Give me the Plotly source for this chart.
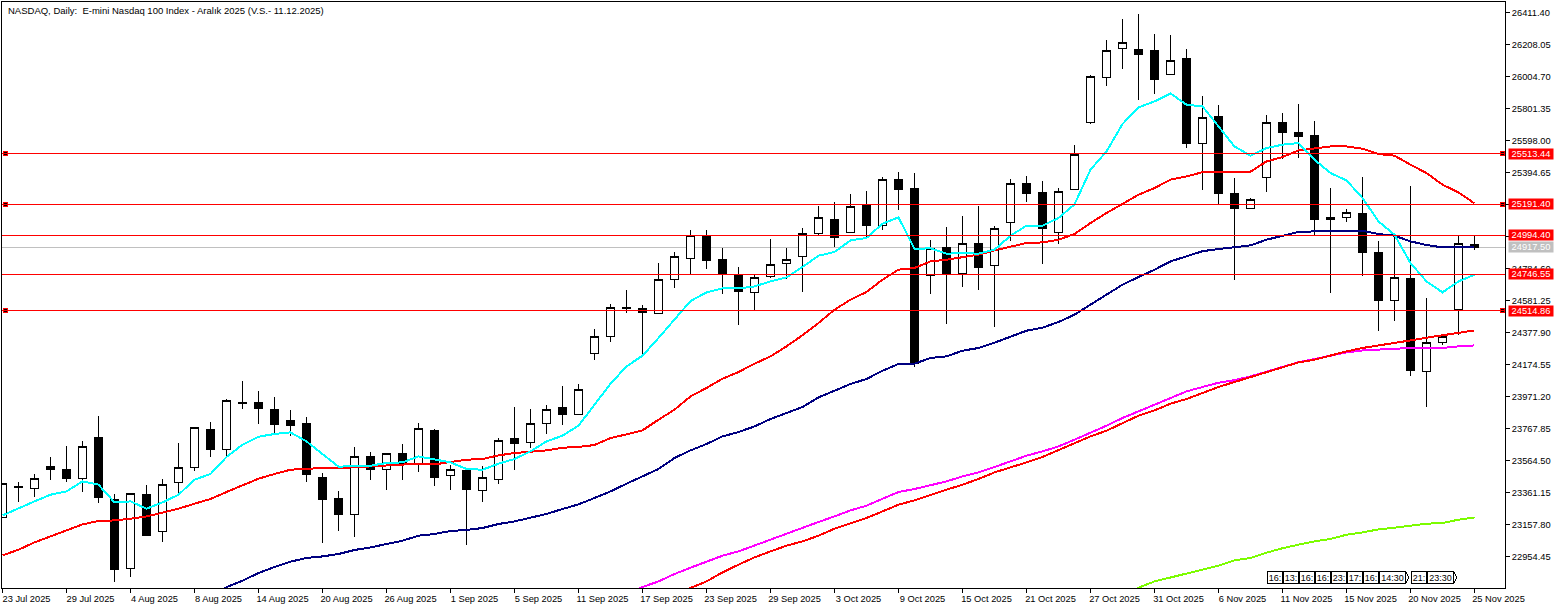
import plotly.graph_objects as go

# daily candles
opens = [23204.2, 23396, 23388.5, 23528.3, 23509.2, 23452, 23708.1, 23314.1, 22873.8, 23345.9,
         23108.9, 23426.6, 23521.9, 23757.1, 23636.3, 23935, 23935, 23884.2, 23816.2, 23797.1,
         23458.4, 23324.9, 23220.7, 23591.8, 23509.2, 23606.5, 23536.5, 23752.6, 23471.1, 23498.4,
         23375.8, 23445.7, 23699.9, 23674.5, 23801.5, 23903.2, 23858.7, 24246.4, 24348.1, 24533,
         24532.3, 24498, 24716.6, 24850.1, 24991.8, 24843.7, 24744, 24634, 24735.7, 24818.3,
         24856.5, 25008.9, 25097.9, 25015.3, 25188.8, 25057.2, 25345.8, 25294.9, 24742, 24915.5,
         24752.2, 24945.4, 24803.1, 25078.8, 25326.7, 25269.5, 25015.3, 25288.5, 25714.3, 26000.3,
         26184.6, 26178.2, 26167.4, 26019.3, 26116.6, 25580.9, 25748, 25263.1, 25165.3, 25364.8,
         25714.3, 25650.8, 25627.3, 25106.2, 25104.3, 25136, 24888.2, 24583.2, 24723, 24129.5,
         24313.7, 24523.5, 24939]
highs = [23416, 23426.6, 23479.4, 23587.4, 23657.3, 23689.1, 23847.9, 23352.3, 23356.7, 23409.5,
         23447.6, 23676.4, 23778, 23809.8, 23954.1, 24070.4, 24006.8, 23968.7, 23886.1, 23841.6,
         23483.8, 23371.3, 23649, 23617.3, 23612.8, 23670, 23803.5, 23765.3, 23536.5, 23511.1,
         23530.2, 23708.1, 23905.1, 23892.4, 23915.9, 24038.6, 24051.3, 24400.8, 24559.7, 24648.6,
         24553.3, 24820.2, 24888.2, 25029.9, 25029.9, 24915.5, 24794.8, 24744, 24972.7, 24915.5,
         25038.2, 25182.4, 25203.4, 25258.7, 25277.8, 25366.7, 25398.5, 25392.1, 24966.4, 25049,
         25118.9, 25182.4, 25055.3, 25354, 25373.1, 25341.3, 25296.8, 25570.1, 26014.9, 26235.4,
         26370.8, 26402.5, 26275.4, 26269.1, 26180.1, 25881.5, 25824.3, 25360.4, 25233.3, 25760.7,
         25773.4, 25830.6, 25722.6, 25296.8, 25163.4, 25366.7, 24960, 24998.1, 25309.5, 24597.8,
         24356.3, 24993.7, 24993.7]
lows = [23204.2, 23297, 23328.8, 23436.8, 23424.1, 23360.6, 23290.6, 22788.6, 22820.4, 23087.3,
        23042.8, 23350.4, 23498.4, 23587.4, 23589.3, 23888, 23792.7, 23738, 23716.4, 23424.1,
        23036.4, 23117.2, 23074.6, 23441.2, 23373.2, 23436.8, 23487.6, 23403.1, 23373.2, 23023.7,
        23297, 23411.4, 23504.8, 23644.6, 23729.1, 23786.3, 23858.7, 24199.4, 24313.7, 24498,
        24240, 24491.7, 24656.9, 24750.3, 24777.6, 24623.2, 24421.8, 24519.6, 24720.5, 24718.5,
        24631.5, 24996.2, 24921.9, 25015.3, 24977.2, 25025.5, 25157, 24154.9, 24618.8, 24428.1,
        24663.3, 24644.2, 24409.1, 24955.6, 25203.4, 24809.4, 24936.5, 25288.5, 25699.1, 25940.5,
        26048.6, 25851.6, 25889.7, 26019.3, 25546.5, 25279.7, 25195.1, 24707.7, 25161.5, 25266.9,
        25479.2, 25487.5, 24998.1, 24625.1, 25076.3, 24733.2, 24383.6, 24447.2, 24097.7, 23900.7,
        24299.1, 24358.2, 24902.8]
closes = [23415.8, 23394, 23452, 23506.7, 23449.5, 23655.4, 23328.8, 22871.2, 23350.4, 23087.3,
          23413.9, 23521.9, 23769.8, 23630, 23947.7, 23928.6, 23894.3, 23792.7, 23786.3, 23474.9,
          23316, 23220.7, 23587.4, 23502.9, 23610.9, 23538.5, 23763.5, 23455.9, 23502.9, 23379.6,
          23458.4, 23687.2, 23671.9, 23801.5, 23890.5, 23856.2, 24011.3, 24354.4, 24538.7, 24532,
          24504.4, 24716.6, 24862.8, 24996.2, 24834.8, 24750.3, 24637.8, 24729.3, 24811.9, 24837.4,
          25008.9, 25110.6, 24981, 25180.5, 25057.2, 25352.1, 25286, 24182.8, 24913.6, 24750.3,
          24945.4, 24790.3, 25034.4, 25326.7, 25260.6, 25040.7, 25275.8, 25511, 26006.6, 26171.9,
          26222.7, 26146.4, 25985, 26108.3, 25578.3, 25746.1, 25260.6, 25165.3, 25225, 25714.3,
          25648.2, 25622.8, 25095.4, 25095.4, 25142.4, 24885.7, 24580.6, 24729.3, 24135.8, 24316.3,
          24348.1, 24945.4, 24917.5]

# moving averages
ma_cyan = [23214.4, 23261.4, 23303.4, 23345.9, 23366.9, 23430.4, 23409.5, 23297, 23303.4, 23257,
           23297, 23345.9, 23441.2, 23477.5, 23585.5, 23663.7, 23714.5, 23731.7, 23741.8, 23684.6,
           23606.5, 23523.9, 23528.3, 23530.2, 23547.4, 23551.2, 23589.3, 23568.3, 23551.2, 23509.2,
           23504.8, 23542.9, 23572.8, 23621.1, 23684.6, 23720.9, 23784.4, 23917.8, 24051.3, 24161.2,
           24229.2, 24341.7, 24458, 24576.8, 24631.5, 24656.9, 24656.9, 24669.6, 24701.4, 24726.8,
           24792.9, 24864.7, 24888.2, 24961.9, 24977.2, 25068, 25108.1, 24909.2, 24911.1, 24877.4,
           24881.9, 24877.4, 24902.8, 24991.8, 25055.3, 25055.3, 25104.3, 25190.7, 25411.2, 25527.5,
           25701.6, 25807.1, 25845.2, 25896.1, 25824.3, 25813.5, 25686.4, 25559.3, 25500.2, 25549.1,
           25570.1, 25580.9, 25474.7, 25390.2, 25343.2, 25231.4, 25082.7, 24998.1, 24818.3, 24701.4,
           24631.5, 24701.4, 24744]
ma_red = [22960.2, 22996.4, 23042.8, 23080.9, 23115.2, 23157.2, 23178.8, 23182.6, 23193.4, 23208,
          23231.5, 23257, 23288.7, 23318.6, 23363.1, 23403.1, 23447.6, 23477.5, 23504.8, 23511.1,
          23513, 23515.6, 23519.4, 23525.8, 23530.2, 23534.7, 23542.9, 23538.5, 23551.2, 23568.3,
          23572.8, 23595.6, 23610.9, 23619.2, 23627.5, 23644.6, 23649, 23661.7, 23706.2, 23729.1,
          23754.6, 23822.5, 23886.1, 23970.6, 24024, 24083.1, 24125.6, 24178.4, 24224.8, 24288.3,
          24359.5, 24437, 24521.5, 24585.1, 24634, 24712.2, 24775.7, 24786.5, 24828.5, 24839.3,
          24856.5, 24871.1, 24898.4, 24923.8, 24945.4, 24949.2, 24966.4, 25002.6, 25072.5, 25136,
          25195.1, 25252.3, 25294.9, 25347.7, 25368.6, 25395.3, 25398.5, 25398.5, 25398.5, 25463.9,
          25491.9, 25533.8, 25544.6, 25559.3, 25559.3, 25544.6, 25511, 25500.2, 25443, 25390.2,
          25315.9, 25266.9, 25197]
ma_navy = [None] * 13 + [
    22697.7, 22758.1, 22799.4, 22848.3, 22886.4, 22920.2, 22943.7, 22953.8, 22969.1, 22994.5,
    23011.1, 23034.6, 23053.6, 23085.4, 23096.2, 23115.2, 23121.6, 23134.3, 23159.7, 23176.3,
    23197.9, 23223.3, 23255.1, 23284.3, 23324.9, 23366.9, 23415.8, 23462.2, 23509.2, 23579.1,
    23627.5, 23668.1, 23716.4, 23744.3, 23779.9, 23827, 23865.1, 23903.2, 23964.2, 24006.8,
    24049.4, 24081.2, 24133.9, 24176.5, 24178.4, 24214.6, 24224.8, 24261, 24278.2, 24311.8,
    24348.1, 24388.1, 24407.2, 24443.4, 24489.8, 24553.3, 24616.9, 24680.4, 24729.3, 24775.7,
    24828.5, 24862.8, 24893.3, 24907.3, 24920, 24930.2, 24966.4, 24991.8, 25015.9, 25019.1,
    25021.7, 25023.5, 25023.5, 25002.6, 24991.8, 24955.5, 24932.7, 24917.5, 24917.5, 24920]
ma_magenta = [None] * 39 + [
    22710.5, 22759.4, 22794.9, 22842, 22882, 22922.1, 22958.3, 22985.6, 23023.7, 23060,
    23098.1, 23134.3, 23172.5, 23208, 23246.2, 23276, 23320.5, 23363.1, 23382.1, 23405,
    23430.4, 23462.2, 23487.6, 23521.9, 23557.5, 23593.8, 23621.1, 23652.9, 23695.4, 23738,
    23784.4, 23833.3, 23875.3, 23917.8, 23964.2, 24002.4, 24030.3, 24057.6, 24073.5, 24097.7,
    24127.5, 24157.4, 24187.9, 24208.2, 24231.1, 24250.2, 24262.9, 24269.3, 24275.6, 24278.2,
    24278.2, 24278.2, 24288.3, 24294.7]
ma_red_long = [None] * 42 + [
    22716.8, 22753, 22794.9, 22852.2, 22901.1, 22947.5, 22985.6, 23021.8, 23049.2, 23085.4,
    23129.9, 23161.6, 23197.9, 23239.8, 23282.4, 23309.7, 23345.9, 23377.7, 23409.5, 23445.7,
    23487.6, 23521.9, 23551.2, 23585.5, 23627.5, 23670, 23716.4, 23752.6, 23801.5, 23847.9,
    23881.6, 23924.2, 23954.1, 23992.2, 24030.3, 24062.1, 24093.9, 24123.1, 24157.4, 24186.7,
    24203.8, 24231.1, 24256.6, 24278.2, 24292.8, 24309.9, 24326.5, 24343.6, 24358.2, 24375.4,
    24390]
ma_green = [None] * 70 + [
    22704.1, 22754.9, 22794.9, 22820.4, 22848.3, 22869.3, 22894.7, 22928.4, 22943.7, 22977.4,
    23005.9, 23028.2, 23049.2, 23064.4, 23091.7, 23106.3, 23125.4, 23136.2, 23148.9, 23161.6,
    23166.1, 23187.1, 23201.7]

bars = list(range(len(closes)))

# axes
date_ticks = list(range(0, 93, 4))
date_labels = ['23 Jul 2025', '29 Jul 2025', '4 Aug 2025', '8 Aug 2025', '14 Aug 2025', '20 Aug 2025',
               '26 Aug 2025', '1 Sep 2025', '5 Sep 2025', '11 Sep 2025', '17 Sep 2025', '23 Sep 2025',
               '29 Sep 2025', '3 Oct 2025', '9 Oct 2025', '15 Oct 2025', '21 Oct 2025', '27 Oct 2025',
               '31 Oct 2025', '6 Nov 2025', '11 Nov 2025', '15 Nov 2025', '20 Nov 2025', '25 Nov 2025']
price_ticks = [22954.45, 23157.80, 23361.15, 23564.50, 23767.85, 23971.20, 24174.55, 24377.90,
               24581.25, 24784.60, 24987.95, 25191.30, 25394.65, 25598.00, 25801.35, 26004.70,
               26208.05, 26411.40]

# horizontal levels
levels = [25513.44, 25191.40, 24994.40, 24746.55, 24514.86]
marked_levels = [25513.44, 25191.40, 24514.86]
last_price = 24917.50

# small time stamps at the bottom
stamp_bars = [79, 80, 81, 82, 83, 84, 85, 86, 88, 89]
stamp_text = ['16:', '13:', '16:', '16:', '23:', '17:', '16:', '14:30', '21:', '23:30']

FONT = 'Liberation Sans'
TXT = 9.3

fig = go.Figure()

fig.add_shape(type='line', xref='paper', x0=0, x1=1, y0=last_price, y1=last_price,
              line=dict(color='#C0C0C0', width=1), layer='below')

fig.add_trace(go.Candlestick(
    x=bars, open=opens, high=highs, low=lows, close=closes,
    increasing=dict(line=dict(color='black', width=1), fillcolor='white'),
    decreasing=dict(line=dict(color='black', width=1), fillcolor='black'),
    whiskerwidth=0, showlegend=False))

for values, colour in [(ma_green, '#7CFC00'), (ma_magenta, '#FF00FF'), (ma_red_long, '#FF0000'),
                       (ma_navy, '#000080'), (ma_red, '#FF0000'), (ma_cyan, '#00FFFF')]:
    fig.add_trace(go.Scatter(x=bars, y=values, mode='lines', showlegend=False,
                             line=dict(color=colour, width=2)))

for lvl in levels:
    fig.add_shape(type='line', xref='paper', x0=0, x1=1, y0=lvl, y1=lvl,
                  line=dict(color='#FF0000', width=1), layer='above')

# little squares at both ends of the marked levels
for xpos in (0.17, 93.78):
    fig.add_trace(go.Scatter(x=[xpos] * len(marked_levels), y=marked_levels, mode='markers',
                             showlegend=False,
                             marker=dict(symbol='square', size=4, color='black',
                                         line=dict(color='#FF0000', width=1))))

# price labels
for lvl, bg in [(l, '#FF0000') for l in levels] + [(last_price, '#C0C0C0')]:
    fig.add_annotation(x=1, xref='paper', y=lvl, xanchor='left', xshift=3, yanchor='middle',
                       text=f'{lvl:.2f}', showarrow=False, width=44, height=10, borderpad=0,
                       bgcolor=bg, font=dict(family=FONT, size=TXT, color='white'))

for b, t in zip(stamp_bars, stamp_text):
    wide = len(t) > 3
    fig.add_annotation(x=b, y=0.0176, yref='paper', xanchor='left', yanchor='middle', text=t,
                       showarrow=False, width=25 if wide else 14, height=11, borderpad=0,
                       bgcolor='white', bordercolor='black', borderwidth=1,
                       font=dict(family=FONT, size=9, color='black'))
    if wide:
        # pointed end of the longer stamps
        fig.add_shape(type='path', yref='paper', layer='above',
                      path=f'M {b + 1.69} 0.0278 L {b + 1.9} 0.0176 L {b + 1.69} 0.0073',
                      line=dict(color='black', width=1))

fig.add_annotation(x=0, xref='paper', y=1, yref='paper', xanchor='left', yanchor='top', xshift=4, yshift=-1,
                   text='NASDAQ, Daily:  E-mini Nasdaq 100 Index - Aralık 2025 (V.S.- 11.12.2025)',
                   showarrow=False, font=dict(family=FONT, size=9.5, color='black'))

fig.update_layout(
    width=1563, height=609, paper_bgcolor='white', plot_bgcolor='white',
    margin=dict(l=2, r=58, t=2, b=21, pad=0, autoexpand=False),
    font=dict(family=FONT, size=TXT, color='black'),
    hovermode=False,
    xaxis=dict(range=[-0.03125, 93.90625], tickvals=date_ticks, ticktext=date_labels, tickangle=0,
               ticks='outside', ticklen=4, tickcolor='black', showgrid=False, zeroline=False,
               showline=True, linecolor='black', linewidth=1, mirror=True,
               rangeslider=dict(visible=False), ticklabelshift=24, ticklabelstandoff=-2,
               tickfont=dict(family=FONT, size=TXT, color='black')),
    yaxis=dict(range=[22753.0, 26476.9], side='right', tickvals=price_ticks,
               ticktext=[f'{p:.2f}' for p in price_ticks],
               ticks='outside', ticklen=4, tickcolor='black', showgrid=False, zeroline=False,
               showline=True, linecolor='black', linewidth=1, mirror=True,
               tickfont=dict(family=FONT, size=TXT, color='black')),
)

# page without margin, hard pixel edges as in the terminal screenshot
post = ("document.body.style.margin='0';"
        "document.querySelectorAll('.main-svg path').forEach(function(p){p.style.shapeRendering='crispEdges';});")
fig.write_html("out.html", post_script=post, config={'displayModeBar': False})
